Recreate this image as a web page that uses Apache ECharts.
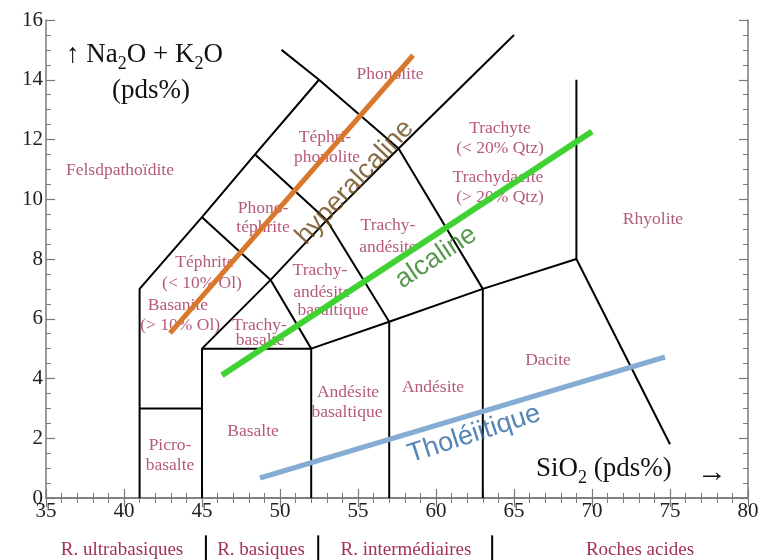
<!DOCTYPE html>
<html><head><meta charset="utf-8">
<script src="https://cdn.jsdelivr.net/npm/echarts@6/dist/echarts.min.js"></script>
<style>html,body{margin:0;padding:0;background:#fff}#c{width:767px;height:560px}</style>
</head><body><div id="c"></div>
<script>
// ---- axes ----
const xRange = [35, 80];   // SiO2 (pds%)
const yRange = [0, 16];    // Na2O + K2O (pds%)
const xInterval = 5;
const yInterval = 2;

// ---- TAS field boundaries (SiO2, Na2O+K2O) ----
const boundaries = [
  [[41,0],[41,7],[45,9.4],[48.4,11.5],[52.5,14],[50.1,15.0]],
  [[41,3],[45,3]],
  [[45,0],[45,5],[49.4,7.3],[45,9.4]],
  [[45,5],[52,5]],
  [[52,0],[52,5],[49.4,7.3],[53,9.3],[48.4,11.5]],
  [[52,5],[57,5.9],[63,7],[69,8]],
  [[57,0],[57,5.9],[53,9.3],[57.6,11.7],[52.5,14]],
  [[63,0],[63,7],[57.6,11.7],[65,15.5]],
  [[69,14],[69,8],[75,1.8]]
];

// ---- magmatic series trend lines ----
const hyperalcaline = [[42.95,5.52],[58.53,14.82]];
const alcaline      = [[46.28,4.11],[70.0,12.27]];
const tholeiitique  = [[48.72,0.67],[74.68,4.72]];

// ---- field names [text, SiO2, alkali] ----
const fieldLabels = [
  ['Phonolite',57.05,14.18],
  ['Téphri-',52.88,12.07],['phonolite',53.01,11.40],
  ['Felsdpathoïdite',39.74,10.97],
  ['Trachyte',64.10,12.37],['(< 20% Qtz)',64.10,11.71],
  ['Trachydacite',63.97,10.74],['(> 20% Qtz)',64.10,10.07],
  ['Phono-',48.91,9.70],['téphrite',48.91,9.06],
  ['Rhyolite',73.91,9.33],
  ['Trachy-',56.92,9.13],['andésite',56.92,8.39],
  ['Téphrite',45.19,7.89],['(< 10% Ol)',45.0,7.19],
  ['Trachy-',52.56,7.63],['andésite',52.69,6.89],['basaltique',53.40,6.29],
  ['Basanite',43.46,6.45],['(> 10% Ol)',43.60,5.79],
  ['Trachy-',48.69,5.79],['basalte',48.72,5.28],
  ['Dacite',67.18,4.62],
  ['Andésite',59.81,3.71],
  ['Andésite',54.36,3.55],['basaltique',54.29,2.88],
  ['Basalte',48.27,2.24],
  ['Picro-',42.95,1.77],['basalte',42.95,1.10]
];

// ---- trend names [text, SiO2, alkali, angle, colour] ----
const trendLabels = [
  ['hyperalcaline',54.8,10.57,47,'#6b4a17'],
  ['alcaline',60.0,8.06,33.5,'#2d7f22'],
  ['Tholéiitique',62.44,2.14,18,'#2b66a3']
];

// ---- rock classes under the axis ----
const classNames = ['R. ultrabasiques','R. basiques','R. intermédiaires','Roches acides'];
const classCenters = [122, 261, 406, 640];
const classSeparators = [45.25, 52.45, 63.6];

const SERIF = '"Liberation Serif","DejaVu Serif",serif';
const SANS = '"Liberation Sans","DejaVu Sans",sans-serif';
const FIELD_COLOR = '#a3305a';
const FRAME = '#7a7a7a';

const series = [];
boundaries.forEach(pl => series.push({
  type:'line', data:pl, symbol:'none', silent:true, z:2,
  lineStyle:{color:'#000', width:2}, animation:false
}));
classSeparators.forEach(x => series.push({
  type:'line', data:[[x,-1.25],[x,-2.1]], symbol:'none', clip:false, silent:true,
  lineStyle:{color:'#000', width:2}, animation:false
}));
series.push({
  type:'scatter', symbolSize:0, silent:true, z:3, animation:false,
  data: fieldLabels.map(d => ({value:[d[1],d[2]], name:d[0]})),
  label:{show:true, position:'inside', formatter:'{b}', color:FIELD_COLOR,
         fontSize:17.5, fontFamily:SERIF}
});
[[hyperalcaline,'#d9782c',5],[alcaline,'#3fd232',6],[tholeiitique,'#85acd2',5]].forEach(t => series.push({
  type:'line', data:t[0], symbol:'none', silent:true, z:4, animation:false,
  lineStyle:{color:t[1], width:t[2]}
}));
series.push({
  type:'scatter', symbolSize:0, silent:true, z:5, animation:false,
  data: trendLabels.map(d => ({value:[d[1],d[2]], name:d[0],
    label:{rotate:d[3], color:d[4]}})),
  label:{show:true, position:'inside', formatter:'{b}', fontSize:27, fontFamily:SANS}
});

const axisCommon = {
  type:'value', axisLine:{show:true, lineStyle:{color:FRAME, width:1.5}},
  splitLine:{show:false},
  axisTick:{show:true, inside:true, length:9, lineStyle:{color:FRAME, width:1.2}},
  minorTick:{show:true, length:5, lineStyle:{color:FRAME, width:1}}
};

const richTitle = {
  m:{fontSize:27, fontFamily:SERIF, lineHeight:38, color:'#111'},
  s:{fontSize:18, fontFamily:SERIF, lineHeight:38, verticalAlign:'bottom', color:'#111'}
};
const graphic = [
  {type:'text', left:66, top:41, style:{text:'{m|↑ Na}{s|2}{m|O + K}{s|2}{m|O}', rich:richTitle, fill:'#111'}},
  {type:'text', left:112, top:77, style:{text:'(pds%)', font:'27px '+SERIF, fill:'#111'}},
  {type:'text', left:536, top:455, style:{text:'{m|SiO}{s|2}{m| (pds%)}', rich:richTitle, fill:'#111'}},
  {type:'text', left:697, top:458, style:{text:'→', font:'30px '+SERIF, fill:'#111'}}
];
classNames.forEach((n,i) => graphic.push({
  type:'text', x:classCenters[i], y:550,
  style:{text:n, font:'19px '+SERIF, fill:FIELD_COLOR, align:'center', verticalAlign:'middle'}
}));

const chart = echarts.init(document.getElementById('c'), null, {renderer:'canvas'});
chart.setOption({
  animation:false,
  backgroundColor:'#fff',
  grid:{left:46, right:19, top:20, bottom:62},
  xAxis:[
    Object.assign({}, axisCommon, {min:xRange[0], max:xRange[1], interval:xInterval, position:'bottom',
      minorTick:Object.assign({}, axisCommon.minorTick, {splitNumber:5}),
      axisLabel:{color:'#222', fontSize:21, fontFamily:SERIF, margin:3}}),
    Object.assign({}, axisCommon, {min:xRange[0], max:xRange[1], interval:xInterval, position:'top',
      minorTick:Object.assign({}, axisCommon.minorTick, {splitNumber:5}),
      axisLabel:{show:false}})
  ],
  yAxis:[
    Object.assign({}, axisCommon, {min:yRange[0], max:yRange[1], interval:yInterval, position:'left',
      minorTick:Object.assign({}, axisCommon.minorTick, {splitNumber:4}),
      axisLabel:{color:'#222', fontSize:21, fontFamily:SERIF, margin:3}}),
    Object.assign({}, axisCommon, {min:yRange[0], max:yRange[1], interval:yInterval, position:'right',
      minorTick:Object.assign({}, axisCommon.minorTick, {splitNumber:4}),
      axisLabel:{show:false}})
  ],
  graphic: graphic,
  series: series
});
</script></body></html>
